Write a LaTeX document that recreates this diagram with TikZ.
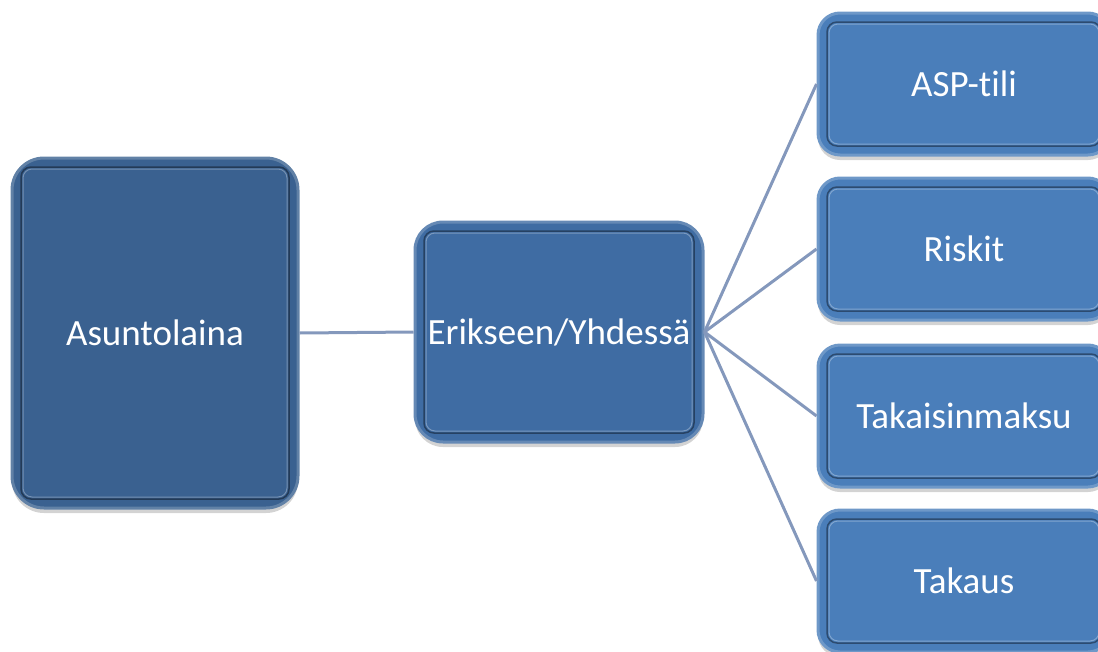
\documentclass[tikz,border=0pt]{standalone}
\usepackage{fontspec}
\setmainfont[Ligatures=NoCommon]{Carlito}
\usepackage{tikz}
\usetikzlibrary{positioning,calc,shadows}

\definecolor{boxdark}{HTML}{3A6190}
\definecolor{boxmid}{HTML}{3F6CA3}
\definecolor{boxlight}{HTML}{4A7EBA}
\definecolor{linkgrey}{HTML}{8498BC}

\tikzset{
	box/.style={draw=#1!80!white,line width=3pt,
		fill=#1,text=white,font=\fontsize{37}{44}\selectfont,
		drop shadow={opacity=0.35,shadow xshift=0pt,shadow yshift=-5pt},
		path picture={
			\draw[#1!60!black,line width=1.5pt,rounded corners=10pt]
				($(path picture bounding box.north west)+(9pt,-9pt)$) rectangle
				($(path picture bounding box.south east)+(-9pt,9pt)$);
			\draw[#1!70!white,line width=1pt,rounded corners=9pt]
				($(path picture bounding box.north west)+(11pt,-11pt)$) rectangle
				($(path picture bounding box.south east)+(-11pt,11pt)$);
		}},
	link/.style={linkgrey,line width=3pt}
}

\begin{document}
\begin{tikzpicture}[x=1pt,y=-1pt]
		\useasboundingbox (0,0) rectangle (1098,651);
		\clip (0,0) rectangle (1098,651);
		\node[box=boxdark,rounded corners=32pt,minimum width=286pt,minimum height=350pt] (1) at (155,333) {Asuntolaina};
		\node[box=boxmid,rounded corners=28pt,minimum width=288pt,minimum height=220pt] (2) at (559,332) {Erikseen/Yhdess\"a};
		\node[box=boxlight,rounded corners=22pt,minimum width=292pt,minimum height=142pt] (3) at (964,84) {ASP-tili};
		\node[box=boxlight,rounded corners=22pt,minimum width=292pt,minimum height=142pt] (4) at (964,249) {Riskit};
		\node[box=boxlight,rounded corners=22pt,minimum width=292pt,minimum height=142pt] (5) at (964,416) {Takaisinmaksu};
		\node[box=boxlight,rounded corners=22pt,minimum width=292pt,minimum height=142pt] (6) at (964,581) {Takaus};
		\draw[link] (1.east) -- (2.west);
		\draw[link] (2.east) -- (3.west);
		\draw[link] (2.east) -- (4.west);
		\draw[link] (2.east) -- (5.west);
		\draw[link] (2.east) -- (6.west);
	\end{tikzpicture}
\end{document}
